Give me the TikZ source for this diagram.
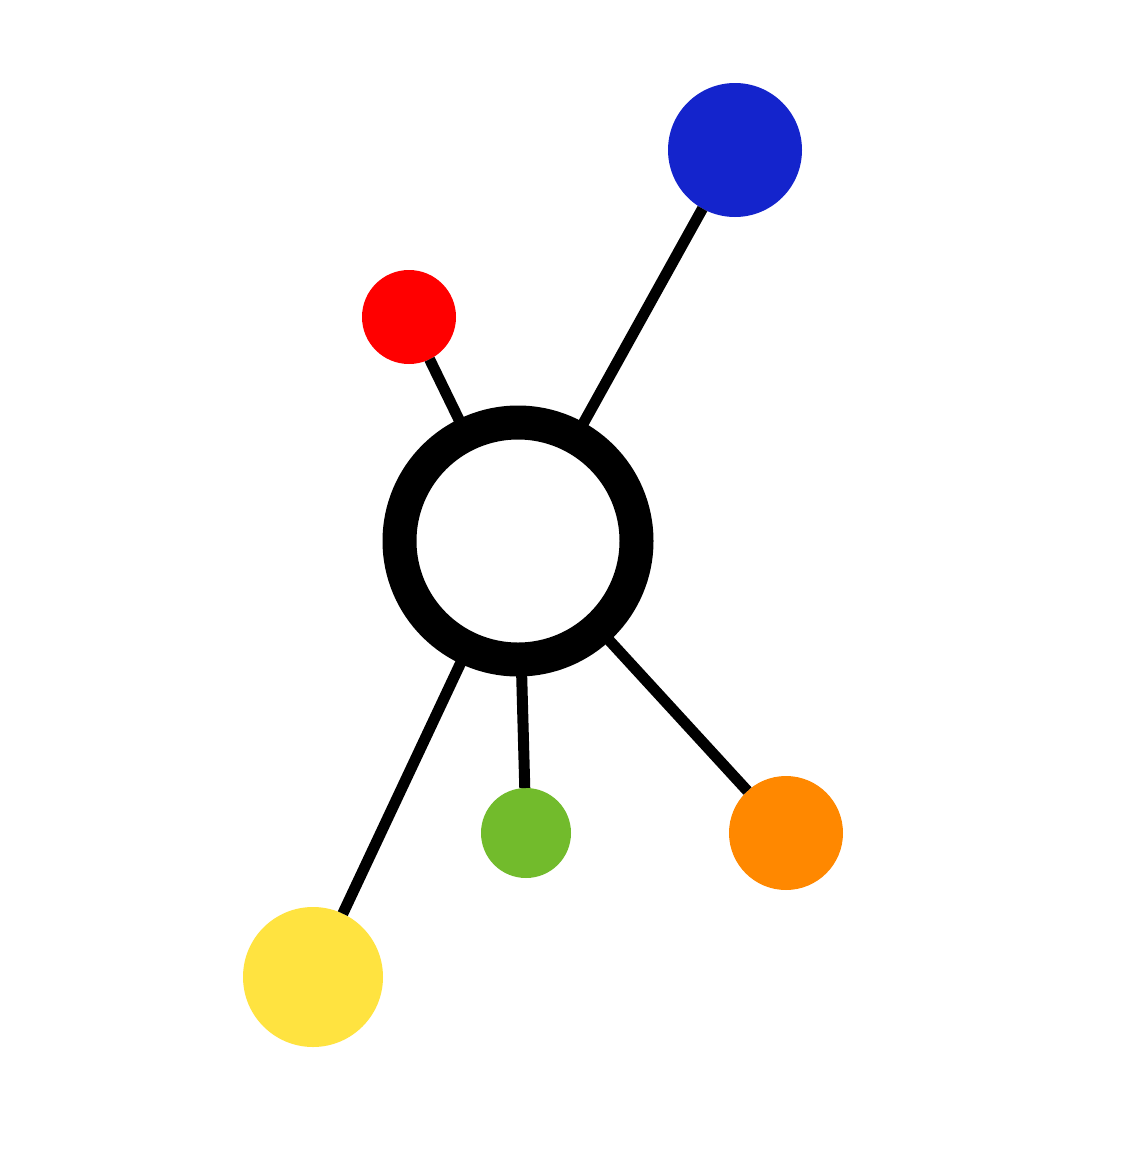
\documentclass[tikz,border=0pt]{standalone}
\begin{document}
\begin{tikzpicture}[x=1pt,y=-1pt,
  dot/.style={circle,inner sep=0pt,outer sep=0pt,draw=none},
  link/.style={line width=11pt,black}]
\definecolor{cblue}{HTML}{1424CC}
\definecolor{cred}{HTML}{FF0000}
\definecolor{cgreen}{HTML}{72BB2C}
\definecolor{corange}{HTML}{FF8800}
\definecolor{cyellow}{HTML}{FFE340}
\useasboundingbox[fill=white] (0,0) rectangle (1123,1162);
\node[circle,draw=black,fill=white,line width=34pt,minimum size=237pt,inner sep=0pt,outer sep=0pt] (hub) at (518,541) {};
\node[dot,fill=cblue,minimum size=134pt] (blue) at (735,150) {};
\node[dot,fill=cred,minimum size=94pt] (red) at (409,317) {};
\node[dot,fill=cgreen,minimum size=90pt] (green) at (526,833) {};
\node[dot,fill=corange,minimum size=114pt] (orange) at (786,833) {};
\node[dot,fill=cyellow,minimum size=140pt] (yellow) at (313,977) {};
\draw[link] (hub) -- (blue);
\draw[link] (hub) -- (red);
\draw[link] (hub) -- (green);
\draw[link] (hub) -- (orange);
\draw[link] (hub) -- (yellow);
\end{tikzpicture}
\end{document}
